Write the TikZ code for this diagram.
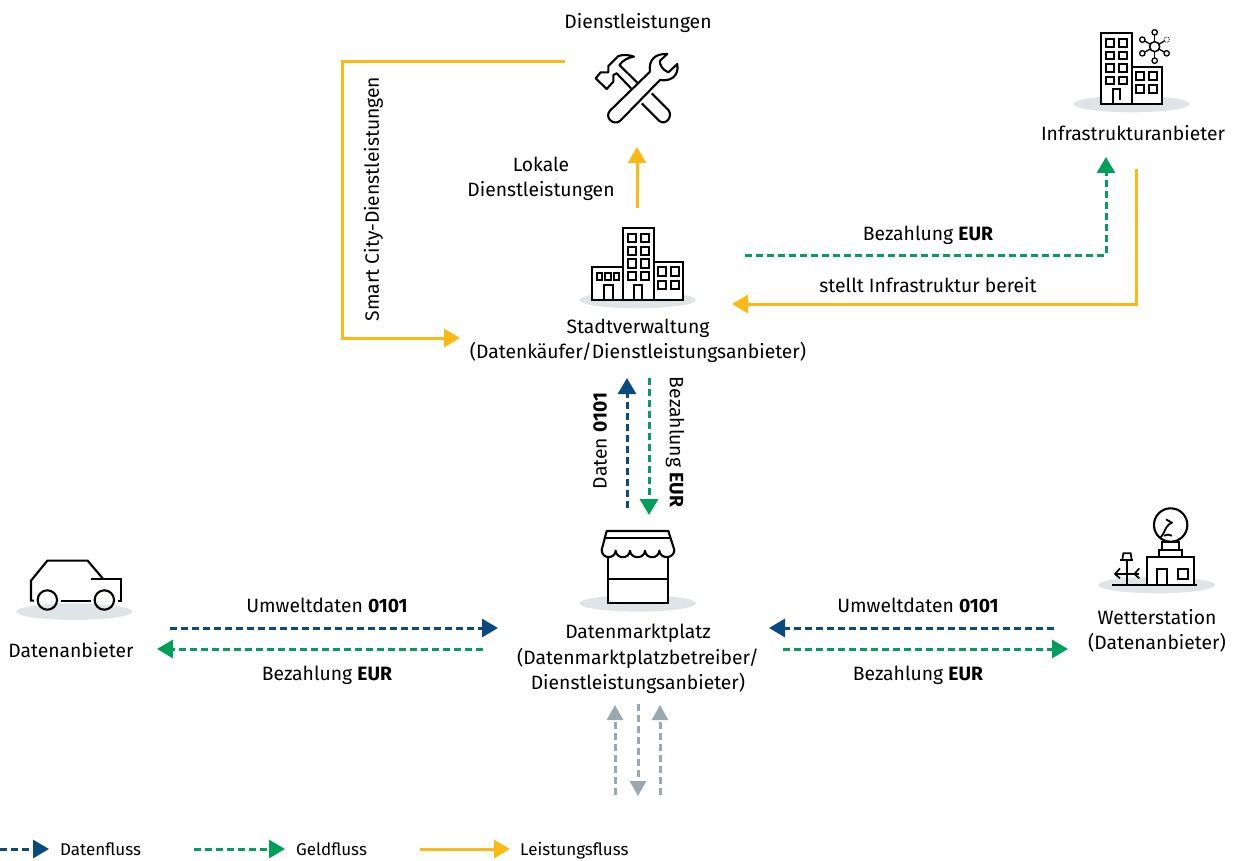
\documentclass[tikz,border=0pt]{standalone}
\usepackage{fontspec}
\setmainfont{Fira Sans}
\usetikzlibrary{arrows.meta}
\definecolor{dblue}{HTML}{0B4A80}
\definecolor{mgreen}{HTML}{00A05A}
\definecolor{lyellow}{HTML}{FDB913}
\definecolor{fgrey}{HTML}{9AA8AF}
\definecolor{shad}{HTML}{DFE4E7}
\tikzset{
 lbl/.style={inner sep=0pt,align=center,text=black,font=\fontsize{19.3}{25.6}\selectfont},
 leg/.style={inner sep=0pt,anchor=base west,text=black,font=\fontsize{17}{20}\selectfont},
 tip/.style={-{Triangle[length=16pt,width=18pt]}},
 flowdash/.style={line width=3pt,dash pattern=on 7pt off 4pt},
 datenfl/.style={tip,flowdash,draw=dblue,color=dblue},
 geldfl/.style={tip,flowdash,draw=mgreen,color=mgreen},
 leistfl/.style={tip,line width=3pt,draw=lyellow,color=lyellow},
 greyfl/.style={-{Triangle[length=15pt,width=16pt]},line width=3pt,dash pattern=on 7pt off 4pt,draw=fgrey,color=fgrey},
 ic/.style={line width=2.1pt,draw=black,line join=miter},
 zoomed/.style={x=0.33333pt,y=-0.33333pt},
}
\begin{document}
\begin{tikzpicture}[x=1pt,y=-1pt]
\useasboundingbox (0,0) rectangle (1234,861);
% Labels
\node[lbl] (tDienst) at (638,23) {Dienstleistungen};
\node[lbl] (tInfra) at (1133,133) {Infrastrukturanbieter};
\node[lbl] (tLokal) at (541,179) {Lokale\\Dienstleistungen};
\node[lbl] (tBez1) at (928,235) {Bezahlung \textbf{EUR}};
\node[lbl] (tStellt) at (928,285) {stellt Infrastruktur bereit};
\node[lbl] (tStadt) at (638,341) {Stadtverwaltung\\(Datenkäufer/Dienstleistungsanbieter)};
\node[lbl,rotate=90] (tSmart) at (373.5,199) {Smart City-Dienstleistungen};
\node[lbl,rotate=90] (tDaten) at (600,441) {Daten \textbf{0101}};
\node[lbl,rotate=-90] (tBez2) at (675,442) {Bezahlung \textbf{EUR}};
\node[lbl] (tUmw1) at (327,605) {Umweltdaten \textbf{0101}};
\node[lbl] (tBez3) at (327,675) {Bezahlung \textbf{EUR}};
\node[lbl] (tAnb) at (71,650) {Datenanbieter};
\node[lbl] (tMarkt) at (638,659) {Datenmarktplatz\\(Datenmarktplatzbetreiber/\\Dienstleistungsanbieter)};
\node[lbl] (tUmw2) at (918,605) {Umweltdaten \textbf{0101}};
\node[lbl] (tBez4) at (918,675) {Bezahlung \textbf{EUR}};
\node[lbl] (tWetter) at (1157,631) {Wetterstation\\(Datenanbieter)};
\node[leg] (lDaten) at (60,855) {Datenfluss};
\node[leg] (lGeld) at (296,855) {Geldfluss};
\node[leg] (lLeist) at (520,855) {Leistungsfluss};
% Connector ends
\coordinate (a1) at (565,62); \coordinate (a1b) at (342,62); \coordinate (a1c) at (342,338); \coordinate (a1d) at (460,338);
\coordinate (a2) at (637,208); \coordinate (a2b) at (637,147);
\coordinate (a3) at (745,255); \coordinate (a3b) at (1106,255); \coordinate (a3c) at (1106,157);
\coordinate (a4) at (1136,169); \coordinate (a4b) at (1136,304); \coordinate (a4c) at (732,304);
\coordinate (a5) at (627,508); \coordinate (a5b) at (627,378);
\coordinate (a6) at (649,378); \coordinate (a6b) at (649,515);
\coordinate (a7) at (170,628); \coordinate (a7b) at (498,628);
\coordinate (a8) at (483,649); \coordinate (a8b) at (157,649);
\coordinate (a9) at (1054,628); \coordinate (a9b) at (769,628);
\coordinate (a10) at (783,649); \coordinate (a10b) at (1068,649);
\coordinate (g1) at (615,795); \coordinate (g1b) at (615,705);
\coordinate (g2) at (638,704); \coordinate (g2b) at (638,796);
\coordinate (g3) at (660,795); \coordinate (g3b) at (660,705);
\coordinate (k1) at (0,849); \coordinate (k1b) at (49,849);
\coordinate (k2) at (194,849); \coordinate (k2b) at (285,849);
\coordinate (k3) at (420,849); \coordinate (k3b) at (510,849);
% Connectors
\draw[leistfl] (a1) -- (a1b) -- (a1c) -- (a1d);
\draw[leistfl] (a2) -- (a2b);
\draw[geldfl] (a3) -- (a3b) -- (a3c);
\draw[leistfl] (a4) -- (a4b) -- (a4c);
\draw[datenfl] (a5) -- (a5b);
\draw[geldfl] (a6) -- (a6b);
\draw[datenfl] (a7) -- (a7b);
\draw[geldfl] (a8) -- (a8b);
\draw[datenfl] (a9) -- (a9b);
\draw[geldfl] (a10) -- (a10b);
\draw[greyfl] (g1) -- (g1b);
\draw[greyfl] (g2) -- (g2b);
\draw[greyfl] (g3) -- (g3b);
\draw[datenfl] (k1) -- (k1b);
\draw[geldfl] (k2) -- (k2b);
\draw[leistfl] (k3) -- (k3b);
% Tools
\begin{scope}[shift={(560,40)},zoomed]
\draw[ic,line join=round] (213,145) -- (170,100) -- (160,105) -- (160,125) -- (140,147) -- (107,115) -- (122,97) -- (145,97) -- (145,78) -- (175,48) .. controls (190,43) and (210,45) .. (222,50) .. controls (205,52) and (190,60) .. (178,75) -- (232,128);
\draw[ic] (275,160) -- (325,210) .. controls (340,228) and (318,258) .. (298,243) -- (245,190);
\draw[ic,line join=round] (270,95) .. controls (265,60) and (285,40) .. (322,42) -- (300,62) .. controls (298,75) and (308,90) .. (325,97) -- (352,72) .. controls (358,110) and (330,125) .. (300,120) -- (180,243) .. controls (160,258) and (132,232) .. (150,212) -- (270,95);
\end{scope}
% Infrastructure
\begin{scope}[shift={(1060,20)},zoomed]
\fill[shad] (215,252) ellipse [x radius=58.3pt,y radius=8.3pt];
\draw[ic,fill=white] (123,40) rectangle (215,252);
\draw[ic,fill=white] (215,140) rectangle (305,252);
\foreach \y in {57,95,133,170} {\draw[ic] (138,\y) rectangle +(25,23); \draw[ic] (176,\y) rectangle +(25,23);}
\draw[ic] (160,250) -- (160,208) -- (180,208) -- (180,240);
\foreach \x in {228,266} \foreach \y in {155,195} {\draw[ic] (\x,\y) rectangle +(25,24);}
\draw[ic,line width=1.5pt] (284,80) circle [radius=5pt];
\foreach \a/\b in {284/37,247/59,247/100,284/122,320/100} {\draw[ic,line width=1.3pt] (\a,\b) circle [radius=2.7pt]; \draw[ic,line width=1.3pt,shorten <=2.7pt,shorten >=5pt] (\a,\b) -- (284,80);}
\draw[line width=0.8pt,densely dotted] (320,59) circle [radius=2.7pt];
\draw[ic,line width=1.3pt,shorten <=2.7pt,shorten >=5pt] (320,59) -- (284,80);
\end{scope}
% City
\begin{scope}[shift={(570,220)},zoomed]
\fill[shad] (203,240) ellipse [x radius=58.3pt,y radius=8.3pt];
\draw[ic,fill=white] (158,25) rectangle (252,240);
\draw[ic,fill=white] (67,142) rectangle (158,240);
\draw[ic,fill=white] (252,127) rectangle (340,240);
\foreach \y in {42,80,118,155} {\draw[ic] (173,\y) rectangle +(25,25); \draw[ic] (212,\y) rectangle +(25,25);}
\draw[ic] (192,238) -- (192,195) -- (217,195) -- (217,238);
\foreach \x in {80,106,131} {\draw[ic] (\x,158) rectangle +(16,22);}
\draw[ic] (103,238) -- (103,195) -- (128,195) -- (128,238);
\foreach \x in {263,302} \foreach \y in {142,182} {\draw[ic] (\x,\y) rectangle +(26,25);}
\end{scope}
% Market
\begin{scope}[shift={(570,520)},zoomed]
\fill[shad] (203,250) ellipse [x radius=58.3pt,y radius=8.3pt];
\draw[ic,fill=white] (113,100) -- (113,250) -- (295,250) -- (295,100);
\draw[ic] (113,178) -- (295,178);
\draw[ic,line join=round,fill=white] (95,90) -- (110,33) -- (295,33) -- (313,90) .. controls (312,118) and (270,118) .. (268,92) .. controls (266,118) and (227,118) .. (225,92) .. controls (223,118) and (182,118) .. (180,92) .. controls (178,118) and (139,118) .. (137,92) .. controls (135,118) and (96,118) .. (95,90);
\draw[ic] (105,55) -- (301,55);
\end{scope}
% Weather
\begin{scope}[shift={(1090,505)},zoomed]
\fill[shad] (200,240) ellipse [x radius=58.3pt,y radius=8.3pt];
\draw[ic,fill=white] (172,240) -- (172,157) -- (312,157) -- (312,240);
\draw[ic] (67,240) -- (320,240);
\draw[ic] (200,240) -- (200,192) -- (232,192) -- (232,240);
\draw[ic] (263,192) rectangle (295,223);
\draw[ic,fill=white] (207,157) rectangle (275,135);
\draw[ic,fill=white] (217,135) rectangle (267,112);
\draw[ic,fill=white] (242,60) circle [radius=16.7pt];
\draw[ic,line width=1.8pt,line join=round] (228,43) .. controls (236,48) and (240,50) .. (246,53) .. controls (232,58) and (226,72) .. (222,82) .. controls (218,90) and (215,93) .. (212,97);
\draw[ic,line width=1.8pt] (222,92) .. controls (230,88) and (238,88) .. (246,92);
\draw[ic,line width=1.7pt] (110,165) -- (110,240);
\draw[ic,line width=1.7pt] (90,165) -- (130,165);
\draw[ic,line width=1.7pt] (97,165) -- (100,145) -- (122,145) -- (125,165);
\draw[ic,line width=1.7pt] (75,207) -- (148,207);
\draw[ic,line width=1.7pt] (90,190) -- (75,207) -- (90,220);
\draw[ic,line width=1.7pt] (148,190) -- (133,207) -- (148,220);
\end{scope}
% Car
\begin{scope}[shift={(5,545)},zoomed]
\fill[shad] (208,200) ellipse [x radius=58.3pt,y radius=8.3pt];
\draw[ic] (87,167) -- (78,167) -- (78,107) -- (127,47) -- (248,47) -- (293,100);
\draw[ic] (258,102) -- (347,102) -- (347,168) -- (338,168);
\draw[ic] (167,167) -- (258,167);
\draw[ic] (127,165) circle [radius=9.7pt];
\draw[ic] (298,165) circle [radius=9.7pt];
\end{scope}
\end{tikzpicture}
\end{document}
